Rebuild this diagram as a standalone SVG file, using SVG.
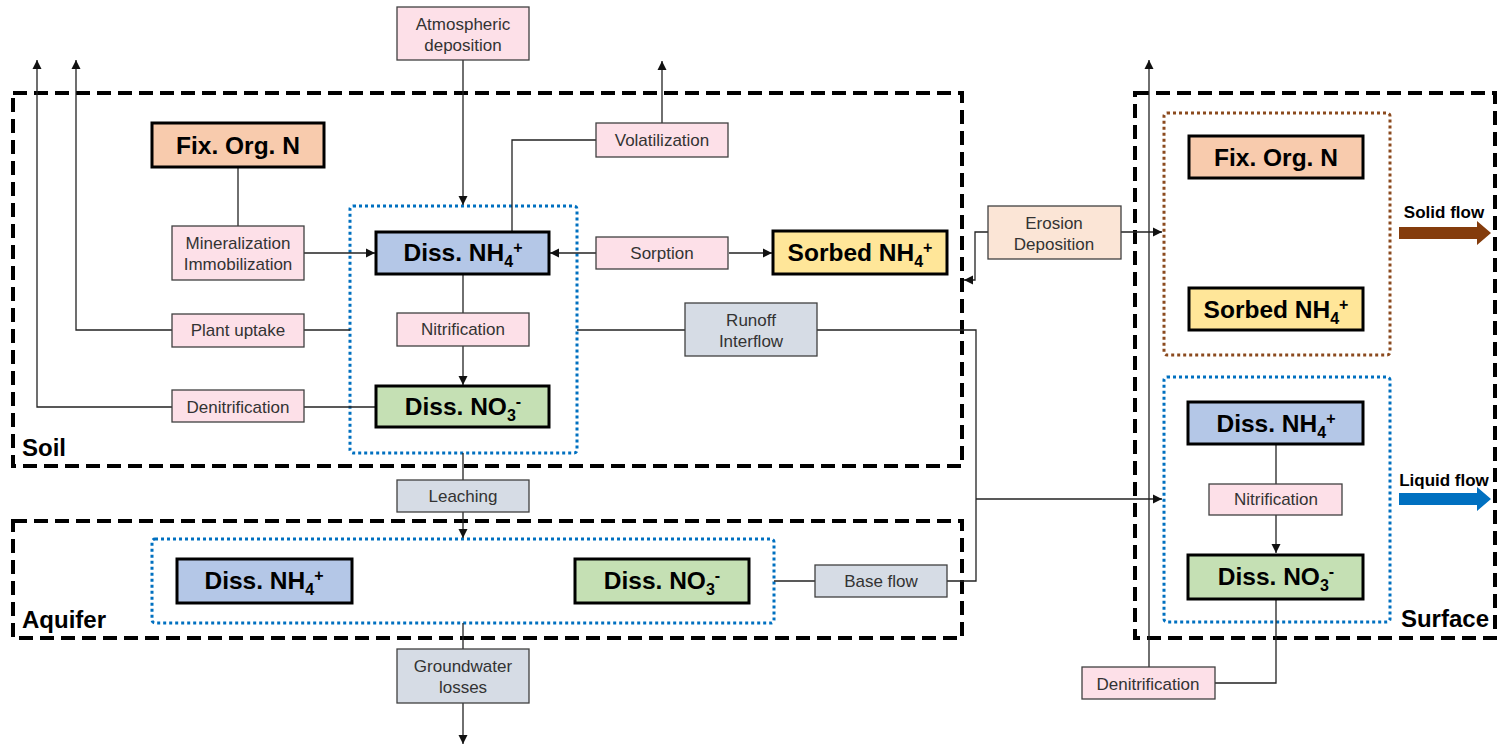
<svg xmlns="http://www.w3.org/2000/svg" width="1498" height="745" viewBox="0 0 1498 745">
  <defs>
    <marker id="arrow" markerUnits="userSpaceOnUse" markerWidth="10" markerHeight="10" refX="9" refY="5" orient="auto">
      <path d="M0,0.5 L9,5 L0,9.5 z" fill="#111"/>
    </marker>
    <style>
      .zone { fill: none; stroke: #000; stroke-width: 4; stroke-dasharray: 14 7; }
      .pool-liquid { fill: none; stroke: #0070C0; stroke-width: 3; stroke-dasharray: 3 3; }
      .pool-solid { fill: none; stroke: #8B4A1E; stroke-width: 3; stroke-dasharray: 3 3; }
      .zone-label { font-family: "Liberation Sans", Arial, sans-serif; font-weight: bold; font-size: 24px; fill: #000; }
      .node rect { stroke: #000; stroke-width: 3; }
      .node text { font-family: "Liberation Sans", Arial, sans-serif; font-weight: bold; font-size: 24.5px; fill: #000; text-anchor: middle; }
      .sub { font-size: 16px; }
      .proc rect { stroke: #404040; stroke-width: 1.3; }
      .proc text { font-family: "Liberation Sans", Arial, sans-serif; font-size: 17px; fill: #333; text-anchor: middle; }
      .pink { fill: #FDE0E8; }
      .grey { fill: #D6DCE5; }
      .peach { fill: #FBE5D6; }
      .org { fill: #F8CBAD; }
      .nh4 { fill: #B4C7E7; }
      .sorbed { fill: #FFE699; }
      .no3 { fill: #C5E0B4; }
      .conn path { fill: none; stroke: #222; stroke-width: 1.3; }
      .flow-label { font-family: "Liberation Sans", Arial, sans-serif; font-weight: bold; font-size: 17px; fill: #000; }
    </style>
  </defs>
  <rect width="1498" height="745" fill="#fff"/>

  <!-- compartments -->
  <g id="soil-zone">
    <rect class="zone" x="13" y="93" width="949" height="373"/>
    <text class="zone-label" x="22" y="456">Soil</text>
  </g>
  <g id="aquifer-zone">
    <rect class="zone" x="13" y="521" width="949" height="117"/>
    <text class="zone-label" x="22" y="628">Aquifer</text>
  </g>
  <g id="surface-zone">
    <rect class="zone" x="1135" y="93" width="360" height="545"/>
    <text class="zone-label" x="1489" y="627" text-anchor="end">Surface</text>
  </g>

  <!-- pools -->
  <rect id="soil-liquid-pool" class="pool-liquid" x="350" y="206" width="227" height="247" rx="3"/>
  <rect id="aquifer-liquid-pool" class="pool-liquid" x="152" y="539" width="622" height="84" rx="3"/>
  <rect id="surface-solid-pool" class="pool-solid" x="1164" y="113" width="226" height="242" rx="3"/>
  <rect id="surface-liquid-pool" class="pool-liquid" x="1164" y="377" width="226" height="245" rx="3"/>

  <!-- connectors -->
  <g id="connectors" class="conn">
    <path d="M463,60 V205" marker-end="url(#arrow)"/>
    <path d="M512,231 V140 H596"/>
    <path d="M662,123 V61" marker-end="url(#arrow)"/>
    <path d="M238,167 V226"/>
    <path d="M304,253 H375" marker-end="url(#arrow)"/>
    <path d="M596,253 H550" marker-end="url(#arrow)"/>
    <path d="M729,253 H772" marker-end="url(#arrow)"/>
    <path d="M350,330 H304"/>
    <path d="M172,330 H76 V60" marker-end="url(#arrow)"/>
    <path d="M376,407 H304"/>
    <path d="M172,407 H37 V60" marker-end="url(#arrow)"/>
    <path d="M463,274 V313"/>
    <path d="M463,346 V385" marker-end="url(#arrow)"/>
    <path d="M577,330 H685"/>
    <path d="M817,330 H976 V581 H947"/>
    <path d="M976,499 H1162" marker-end="url(#arrow)"/>
    <path d="M463,453 V480"/>
    <path d="M463,512 V538" marker-end="url(#arrow)"/>
    <path d="M463,623 V649"/>
    <path d="M463,703 V744" marker-end="url(#arrow)"/>
    <path d="M774,581 H815"/>
    <path d="M1121,232 H1162" marker-end="url(#arrow)"/>
    <path d="M988,232 H975 V280 H964" marker-end="url(#arrow)"/>
    <path d="M1276,444 V484"/>
    <path d="M1276,515 V553" marker-end="url(#arrow)"/>
    <path d="M1276,599 V683 H1215"/>
    <path d="M1149,667 V60" marker-end="url(#arrow)"/>
  </g>

  <!-- soil nodes -->
  <g id="atm-deposition" class="proc">
    <rect class="pink" x="397" y="7" width="132" height="53"/>
    <text x="463" y="30">Atmospheric</text>
    <text x="463" y="51">deposition</text>
  </g>
  <g id="soil-fix-org-n" class="node">
    <rect class="org" x="152" y="123" width="172" height="44"/>
    <text x="238" y="154">Fix. Org. N</text>
  </g>
  <g id="mineralization" class="proc">
    <rect class="pink" x="172" y="226" width="132" height="54"/>
    <text x="238" y="249">Mineralization</text>
    <text x="238" y="270">Immobilization</text>
  </g>
  <g id="soil-diss-nh4" class="node">
    <rect class="nh4" x="376" y="232" width="173" height="42"/>
    <text x="463" y="261">Diss. NH<tspan class="sub" dy="6">4</tspan><tspan class="sub" dy="-14">+</tspan></text>
  </g>
  <g id="volatilization" class="proc">
    <rect class="pink" x="596" y="123" width="132" height="34"/>
    <text x="662" y="146">Volatilization</text>
  </g>
  <g id="sorption" class="proc">
    <rect class="pink" x="596" y="237" width="132" height="32"/>
    <text x="662" y="259">Sorption</text>
  </g>
  <g id="soil-sorbed-nh4" class="node">
    <rect class="sorbed" x="773" y="231" width="174" height="43"/>
    <text x="860" y="261">Sorbed NH<tspan class="sub" dy="6">4</tspan><tspan class="sub" dy="-14">+</tspan></text>
  </g>
  <g id="plant-uptake" class="proc">
    <rect class="pink" x="172" y="314" width="132" height="33"/>
    <text x="238" y="336">Plant uptake</text>
  </g>
  <g id="soil-nitrification" class="proc">
    <rect class="pink" x="397" y="313" width="132" height="33"/>
    <text x="463" y="335">Nitrification</text>
  </g>
  <g id="runoff-interflow" class="proc">
    <rect class="grey" x="685" y="303" width="132" height="53"/>
    <text x="751" y="326">Runoff</text>
    <text x="751" y="347">Interflow</text>
  </g>
  <g id="soil-denitrification" class="proc">
    <rect class="pink" x="172" y="390" width="132" height="32"/>
    <text x="238" y="413">Denitrification</text>
  </g>
  <g id="soil-diss-no3" class="node">
    <rect class="no3" x="376" y="386" width="173" height="41"/>
    <text x="463" y="415">Diss. NO<tspan class="sub" dy="6">3</tspan><tspan class="sub" dy="-14">-</tspan></text>
  </g>

  <!-- aquifer nodes -->
  <g id="leaching" class="proc">
    <rect class="grey" x="397" y="480" width="132" height="32"/>
    <text x="463" y="502">Leaching</text>
  </g>
  <g id="aquifer-diss-nh4" class="node">
    <rect class="nh4" x="177" y="559" width="175" height="44"/>
    <text x="264" y="589">Diss. NH<tspan class="sub" dy="6">4</tspan><tspan class="sub" dy="-14">+</tspan></text>
  </g>
  <g id="aquifer-diss-no3" class="node">
    <rect class="no3" x="575" y="559" width="174" height="44"/>
    <text x="662" y="589">Diss. NO<tspan class="sub" dy="6">3</tspan><tspan class="sub" dy="-14">-</tspan></text>
  </g>
  <g id="base-flow" class="proc">
    <rect class="grey" x="815" y="565" width="132" height="32"/>
    <text x="881" y="587">Base flow</text>
  </g>
  <g id="groundwater-losses" class="proc">
    <rect class="grey" x="397" y="649" width="132" height="54"/>
    <text x="463" y="672">Groundwater</text>
    <text x="463" y="693">losses</text>
  </g>

  <!-- surface nodes -->
  <g id="erosion-deposition" class="proc">
    <rect class="peach" x="988" y="206" width="133" height="53"/>
    <text x="1054" y="229">Erosion</text>
    <text x="1054" y="250">Deposition</text>
  </g>
  <g id="surface-fix-org-n" class="node">
    <rect class="org" x="1189" y="136" width="174" height="42"/>
    <text x="1276" y="166">Fix. Org. N</text>
  </g>
  <g id="surface-sorbed-nh4" class="node">
    <rect class="sorbed" x="1189" y="288" width="174" height="42"/>
    <text x="1276" y="318">Sorbed NH<tspan class="sub" dy="6">4</tspan><tspan class="sub" dy="-14">+</tspan></text>
  </g>
  <g id="surface-diss-nh4" class="node">
    <rect class="nh4" x="1188" y="402" width="175" height="42"/>
    <text x="1276" y="432">Diss. NH<tspan class="sub" dy="6">4</tspan><tspan class="sub" dy="-14">+</tspan></text>
  </g>
  <g id="surface-nitrification" class="proc">
    <rect class="pink" x="1209" y="484" width="133" height="31"/>
    <text x="1276" y="505">Nitrification</text>
  </g>
  <g id="surface-diss-no3" class="node">
    <rect class="no3" x="1188" y="555" width="175" height="44"/>
    <text x="1276" y="585">Diss. NO<tspan class="sub" dy="6">3</tspan><tspan class="sub" dy="-14">-</tspan></text>
  </g>
  <g id="surface-denitrification" class="proc">
    <rect class="pink" x="1082" y="667" width="133" height="32"/>
    <text x="1148" y="690">Denitrification</text>
  </g>

  <!-- outflows -->
  <g id="solid-flow">
    <text class="flow-label" x="1444" y="218" text-anchor="middle">Solid flow</text>
    <polygon points="1399,227 1477,227 1477,221 1491,233 1477,245 1477,239 1399,239" fill="#843C0C"/>
  </g>
  <g id="liquid-flow">
    <text class="flow-label" x="1444" y="486" text-anchor="middle">Liquid flow</text>
    <polygon points="1399,493 1477,493 1477,487 1491,499 1477,511 1477,505 1399,505" fill="#0070C0"/>
  </g>
</svg>
